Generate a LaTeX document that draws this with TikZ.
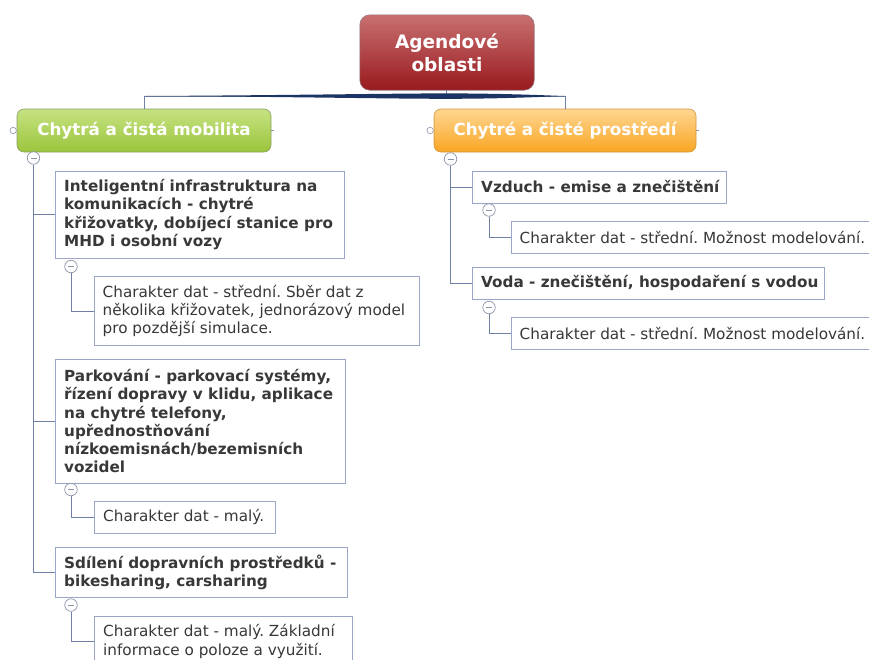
\documentclass[tikz,border=0pt]{standalone}
\usepackage{fontspec}
\setmainfont{DejaVu Sans}
\frenchspacing
\definecolor{conn}{HTML}{6F7FA6}
\definecolor{bord}{HTML}{9AA6C8}
\definecolor{txt}{HTML}{383838}
\definecolor{barc}{HTML}{1C3463}
\definecolor{ccirc}{HTML}{8C93A8}
\begin{document}
\begin{tikzpicture}[x=1pt,y=-1pt,
  boxs/.style={draw=bord, line width=0.9pt, fill=white, anchor=north west, inner sep=0pt},
  txtn/.style={anchor=west, inner sep=0pt, align=left, text=txt, xshift=9pt, font=\fontsize{15.25}{18.3}\selectfont},
  txtb/.style={txtn, font=\fontsize{15.25}{18.3}\selectfont\bfseries},
  conline/.style={draw=conn, line width=0.9pt},
  coll/.style={circle, draw=ccirc, fill=white, line width=0.7pt, minimum size=12.5pt, inner sep=0pt,
    path picture={\draw[ccirc, line width=0.8pt] ([xshift=-3pt]path picture bounding box.center) -- ([xshift=3pt]path picture bounding box.center);}},
  knob/.style={circle, draw=ccirc, fill=white, line width=0.6pt, minimum size=6.5pt, inner sep=0pt},
  mainbox/.style={rounded corners=7pt, line width=0.6pt, minimum height=43pt, inner sep=0pt},
  hdtxt/.style={text=white, font=\fontsize{16.7}{20}\selectfont\bfseries, inner sep=0pt}
]
\useasboundingbox (0,0) rectangle (869,659);

% root
\node[minimum width=174pt, minimum height=75pt, inner sep=0pt] (rootbg) at (447,52.5) {};
\shade[rounded corners=10pt, top color={rgb,255:red,200;green,112;blue,112}, middle color={rgb,255:red,160;green,30;blue,35}, bottom color={rgb,255:red,152;green,26;blue,30}, draw={rgb,255:red,150;green,120;blue,125}, line width=0.6pt]
  (rootbg.south west) rectangle (rootbg.north east);
\node[align=center, text=white, font=\fontsize{18.5}{23}\selectfont\bfseries, inner sep=0pt] (roottxt) at (447,53) {Agendové\\oblasti};

% main topics
\node[mainbox, minimum width=254pt, draw={rgb,255:red,138;green,160;blue,100},
  top color={rgb,255:red,198;green,226;blue,130}, bottom color={rgb,255:red,155;green,197;blue,60}] (g) at (144,130.5) {};
\node[hdtxt] (gt) at (144,130.5) {Chytrá a čistá mobilita};
\node[mainbox, minimum width=262pt, draw={rgb,255:red,210;green,150;blue,60},
  top color={rgb,255:red,254;green,214;blue,145}, bottom color={rgb,255:red,249;green,166;blue,35}] (o) at (565,130.5) {};
\node[hdtxt] (ot) at (565,130.5) {Chytré a čisté prostředí};

% knobs and stubs
\node[knob, anchor=east] (gk) at (g.west) {};
\node[knob, anchor=east] (ok) at (o.west) {};
\coordinate (gs) at ([xshift=3pt]g.east);
\coordinate (os) at ([xshift=3pt]o.east);
\draw[ccirc, line width=0.5pt] (g.east) -- (gs);
\draw[ccirc, line width=0.5pt] (o.east) -- (os);

% root connector
\coordinate (barC) at (446,96);
\coordinate (barL) at (g.north |- barC);
\coordinate (barR) at (o.north |- barC);
\draw[conline, line width=0.8pt] (rootbg.south -| barC) -- (barC);
\draw[conline, line width=0.8pt] (barL) -- (g.north);
\draw[conline, line width=0.8pt] (barR) -- (o.north);
\draw[conn, line width=0.8pt] (barL) -- (barR);
\fill[barc] (barL) .. controls (280,95.4) and (390,93.4) .. (446,93.4)
  .. controls (505,93.4) and (545,95.4) .. (barR)
  .. controls (545,96.6) and (505,98.8) .. (446,98.8)
  .. controls (390,98.8) and (280,96.6) .. (barL) -- cycle;

% left subtree
\node[boxs, minimum width=289pt, minimum height=87pt] (b1) at (55,170.5) {};
\node[txtb] (b1t) at (b1.west) {Inteligentní infrastruktura na\\komunikacích - chytré\\křižovatky, dobíjecí stanice pro\\MHD i osobní vozy};
\node[boxs, minimum width=325pt, minimum height=69pt] (b1a) at (93.5,276) {};
\node[txtn] (b1at) at (b1a.west) {Charakter dat - střední. Sběr dat z\\několika křižovatek, jednorázový model\\pro pozdější simulace.};
\node[boxs, minimum width=290pt, minimum height=124.5pt] (b2) at (55,358.5) {};
\node[txtb] (b2t) at (b2.west) {Parkování - parkovací systémy,\\řízení dopravy v klidu, aplikace\\na chytré telefony,\\upřednostňování\\nízkoemisnách/bezemisních\\vozidel};
\node[boxs, minimum width=181pt, minimum height=32pt] (b2a) at (94,501) {};
\node[txtn] (b2at) at (b2a.west) {Charakter dat - malý.};
\node[boxs, minimum width=292pt, minimum height=50pt] (b3) at (55,547) {};
\node[txtb] (b3t) at (b3.west) {Sdílení dopravních prostředků -\\bikesharing, carsharing};
\node[boxs, minimum width=258pt, minimum height=50pt] (b3a) at (94,616) {};
\node[txtn] (b3at) at (b3a.west) {Charakter dat - malý. Základní\\informace o poloze a využití.};

% right subtree
\node[boxs, minimum width=254pt, minimum height=32pt] (r1) at (472,170.5) {};
\node[txtb] (r1t) at (r1.west) {Vzduch - emise a znečištění};
\node[boxs, minimum width=370pt, minimum height=32pt] (r1a) at (510.5,221) {};
\node[txtn] (r1at) at (r1a.west) {Charakter dat - střední. Možnost modelování.};
\node[boxs, minimum width=352pt, minimum height=32pt] (r2) at (472,266.5) {};
\node[txtb] (r2t) at (r2.west) {Voda - znečištění, hospodaření s vodou};
\node[boxs, minimum width=370pt, minimum height=32.5pt] (r2a) at (510.5,316.5) {};
\node[txtn] (r2at) at (r2a.west) {Charakter dat - střední. Možnost modelování.};

% collapse circles
\node[coll] (cg) at (33.5,158) {};
\node[coll] (c1) at (71,266.5) {};
\node[coll] (c2) at (71,489.5) {};
\node[coll] (c3) at (71,605) {};
\node[coll] (co) at (450.5,159) {};
\node[coll] (cr1) at (489,210) {};
\node[coll] (cr2) at (489,307.5) {};

% connectors
\draw[conline] (cg.south) |- (b1.west);
\draw[conline] (cg.south) |- (b2.west);
\draw[conline] (cg.south) |- (b3.west);
\draw[conline] (c1.south) |- (b1a.west);
\draw[conline] (c2.south) |- (b2a.west);
\draw[conline] (c3.south) |- (b3a.west);
\draw[conline] (co.south) |- (r1.west);
\draw[conline] (co.south) |- (r2.west);
\draw[conline] (cr1.south) |- (r1a.west);
\draw[conline] (cr2.south) |- (r2a.west);
\end{tikzpicture}
\end{document}
